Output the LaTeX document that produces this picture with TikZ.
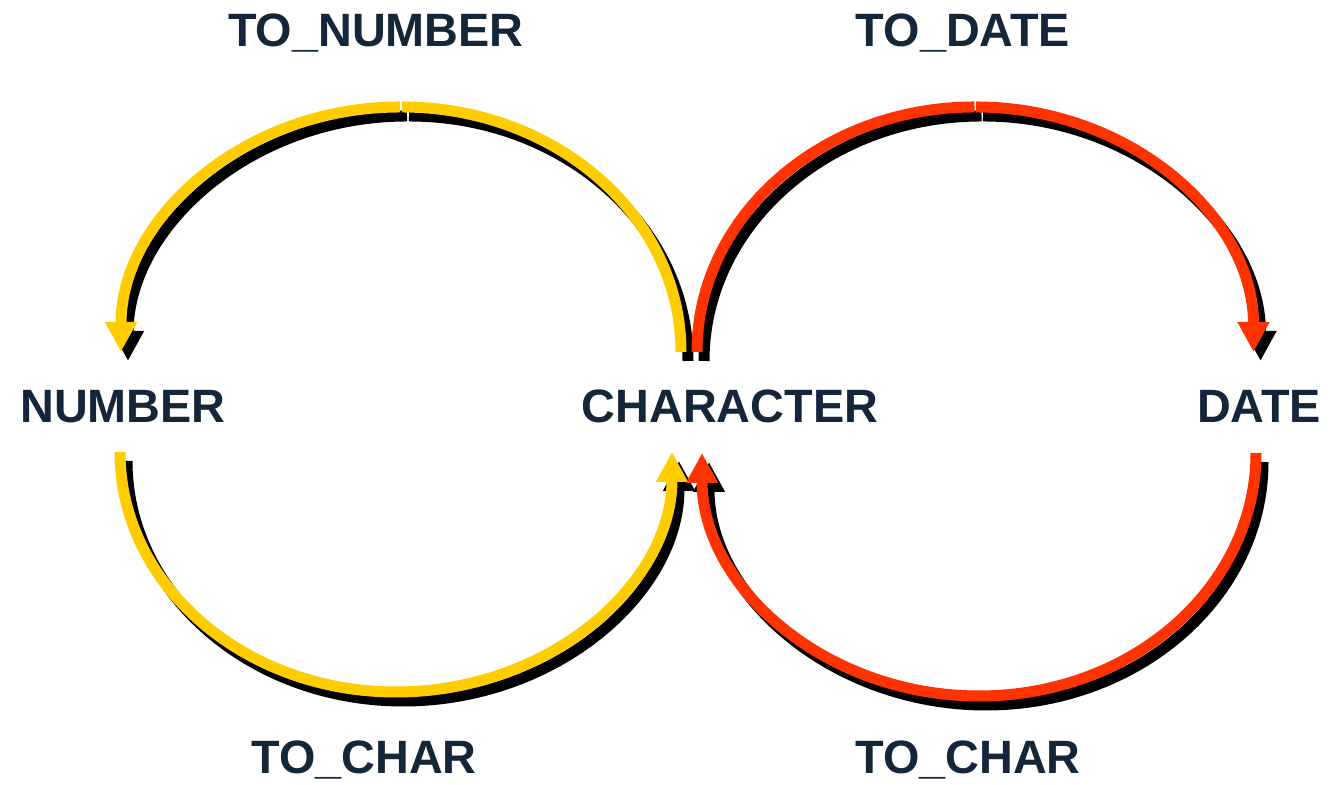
\documentclass[tikz,border=0pt]{standalone}
\usepackage{fontspec}
\setmainfont{Liberation Sans}
\usetikzlibrary{arrows.meta}
\definecolor{txtblue}{HTML}{14263A}
\definecolor{numyellow}{HTML}{FFCC00}
\definecolor{datered}{HTML}{FF3300}

\begin{document}
\begin{tikzpicture}
    [x=0.5pt, y=0.5pt,
    label/.style={anchor=base, inner sep=0pt, text=txtblue,
        font=\bfseries\fontsize{23.4}{28}\selectfont},
    conv/.style={line width=5.5pt},
    tip/.style={-{Triangle[width=15pt,length=15pt]}}]
        \useasboundingbox (0,0) rectangle (1330,785);

        %% Types
        \node[label] (N) at (123,362) {NUMBER};
        \node[label] (C) at (730,362) {CHARACTER};
        \node[label] (D) at (1259,362) {DATE};

        %% Functions
        \node[label] (TN) at (376,738) {TO\_NUMBER};
        \node[label] (TD) at (963,738) {TO\_DATE};
        \node[label] (TC1) at (364,11) {TO\_CHAR};
        \node[label] (TC2) at (968,11) {TO\_CHAR};

        %% Arc ends
        \coordinate (CN) at (681,433);
        \coordinate (NT) at (402,678);
        \coordinate (NC) at (120,333);
        \coordinate (CD) at (697,433);
        \coordinate (DT) at (974,678);
        \coordinate (DC) at (1256,332);

        %% CHARACTER to NUMBER
        \draw[conv, black] ([shift={(7,-9)}]CN) arc[start angle=0, end angle=90, x radius=139.5pt, y radius=122.5pt];
        \draw[conv, black, tip] ([shift={(5,-9)}]NT) arc[start angle=90, end angle=180, x radius=139.5pt, y radius=122.5pt];
        \draw[conv, numyellow] (CN) arc[start angle=0, end angle=90, x radius=139.5pt, y radius=122.5pt];
        \draw[conv, numyellow, tip] ([shift={(-2,0)}]NT) arc[start angle=90, end angle=180, x radius=139.5pt, y radius=122.5pt];

        %% NUMBER to CHARACTER
        \draw[conv, black, tip] ([shift={(7,-9)}]NC) arc[start angle=180, end angle=360, x radius=138pt, y radius=120pt];
        \draw[conv, numyellow, tip] (NC) arc[start angle=180, end angle=360, x radius=138pt, y radius=120pt];

        %% CHARACTER to DATE
        \draw[conv, black] ([shift={(7,-9)}]CD) arc[start angle=180, end angle=90, x radius=138.75pt, y radius=122.5pt];
        \draw[conv, black, tip] ([shift={(9,-9)}]DT) arc[start angle=90, end angle=0, x radius=138.75pt, y radius=122.5pt];
        \draw[conv, datered] (CD) arc[start angle=180, end angle=90, x radius=138.75pt, y radius=122.5pt];
        \draw[conv, datered, tip] ([shift={(2,0)}]DT) arc[start angle=90, end angle=0, x radius=138.75pt, y radius=122.5pt];

        %% DATE to CHARACTER
        \draw[conv, black, tip] ([shift={(7,-9)}]DC) arc[start angle=0, end angle=-180, x radius=138.5pt, y radius=121.5pt];
        \draw[conv, datered, tip] (DC) arc[start angle=0, end angle=-180, x radius=138.5pt, y radius=121.5pt];
    \end{tikzpicture}
\end{document}
